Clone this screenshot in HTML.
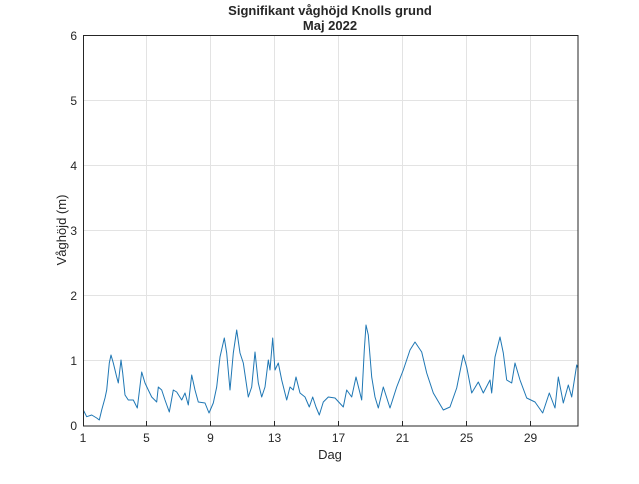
<!DOCTYPE html>
<html><head><meta charset="utf-8"><style>
body{margin:0;background:#fff;}
svg text{font-family:"Liberation Sans",sans-serif;fill:#262626;}
</style></head><body>
<svg width="639" height="479" viewBox="0 0 639 479" xmlns="http://www.w3.org/2000/svg">
<rect width="639" height="479" fill="#fff"/>
<g stroke="#e3e3e3" stroke-width="1">
<line x1="146.5" y1="35" x2="146.5" y2="426"/><line x1="210.5" y1="35" x2="210.5" y2="426"/>
<line x1="274.5" y1="35" x2="274.5" y2="426"/><line x1="338.5" y1="35" x2="338.5" y2="426"/>
<line x1="402.5" y1="35" x2="402.5" y2="426"/><line x1="466.5" y1="35" x2="466.5" y2="426"/>
<line x1="530.5" y1="35" x2="530.5" y2="426"/>
<line x1="83" y1="360.5" x2="578" y2="360.5"/><line x1="83" y1="295.5" x2="578" y2="295.5"/>
<line x1="83" y1="230.5" x2="578" y2="230.5"/><line x1="83" y1="165.5" x2="578" y2="165.5"/>
<line x1="83" y1="100.5" x2="578" y2="100.5"/>
</g>
<polyline fill="none" stroke="#1f77b4" stroke-width="1" stroke-linejoin="round" points="83.3,410 86.7,416.7 91.7,415 96.7,418 99.3,420 101.7,410 105,398 106.7,390 109.3,363 111,355 113.3,363 116.7,377 118.3,383 121,360 122.7,373 125,395 128.3,400 133.3,400 137.3,408 141.7,372 145,383 148.3,390 151.7,397 156.7,402 158.3,387 161.7,390 165,400 169.3,412 173.3,390 176.7,392 181.7,400 185,393 188.3,405 191.7,375 195,390 198.3,402 205,403 209,413 213.3,403 216.7,387 220,357 224.3,338 226.7,353 230,390 233.3,353 236.7,330 240,353 243.3,363 248.3,397 251.7,387 255,352 258.3,383 261.7,397 265,387 268.3,360 270,370 272.7,338 275,370 278.3,363 281.7,380 286.7,400 290,387 293.3,390 296,377 300,393 305,397 309.3,407 312.7,397 316,407 319.3,415 323.3,402 328.3,397 335,398 343.3,407 346.7,390 351.7,397 356,377 361.7,400 364.3,350 366,325 368.3,335 371.7,377 375,397 378.3,408 383.3,387 390,408 396.7,387 403.3,370 410,350 415,342 421.7,352 426.7,373 433.3,393 443.3,410 450,407 456.7,388 463.3,355 466.7,367 471.7,393 478.3,382 483.3,393 490,380 491.7,393 495,357 500,337 503.3,353 506.7,380 511.7,383 515,363 520,380 526.7,398 535,402 542.7,413 549.3,393 555,408 558.3,377 563.3,403 568.3,385 571.7,397 576.7,365 578,368"/>
<rect x="83.5" y="35.5" width="494.5" height="390.5" fill="none" stroke="#262626" stroke-width="1"/>
<g stroke="#262626">
<line x1="146.5" y1="426" x2="146.5" y2="421"/><line x1="210.5" y1="426" x2="210.5" y2="421"/>
<line x1="274.5" y1="426" x2="274.5" y2="421"/><line x1="338.5" y1="426" x2="338.5" y2="421"/>
<line x1="402.5" y1="426" x2="402.5" y2="421"/><line x1="466.5" y1="426" x2="466.5" y2="421"/>
<line x1="530.5" y1="426" x2="530.5" y2="421"/>
</g>
<g font-size="12" text-anchor="middle">
<text x="83" y="442">1</text><text x="146.5" y="442">5</text><text x="210.5" y="442">9</text>
<text x="274.5" y="442">13</text><text x="338.5" y="442">17</text><text x="402.5" y="442">21</text>
<text x="466.5" y="442">25</text><text x="530.5" y="442">29</text>
</g>
<g font-size="12" text-anchor="end">
<text x="77" y="430">0</text><text x="77" y="365">1</text><text x="77" y="300">2</text>
<text x="77" y="235">3</text><text x="77" y="170">4</text><text x="77" y="105">5</text><text x="77" y="40">6</text>
</g>
<text x="330" y="459" font-size="13" text-anchor="middle">Dag</text>
<text transform="translate(66,230) rotate(-90)" font-size="13" text-anchor="middle">Våghöjd (m)</text>
<text x="330" y="15" font-size="13" font-weight="bold" text-anchor="middle">Signifikant våghöjd Knolls grund</text>
<text x="330" y="30" font-size="13" font-weight="bold" text-anchor="middle">Maj 2022</text>
</svg>
</body></html>
